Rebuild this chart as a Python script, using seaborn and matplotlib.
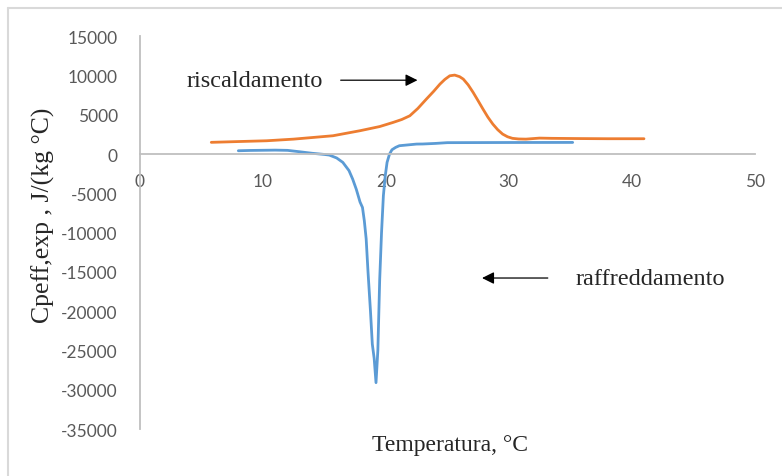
import matplotlib
matplotlib.use('Agg')
import matplotlib.pyplot as plt
import seaborn as sns
import pandas as pd
from matplotlib.lines import Line2D

# riscaldamento (heating) curve
temp_heat = [5.8, 8.0, 10.3, 12.5, 15.7, 17.9, 19.5, 20.6, 21.3, 21.95, 22.6, 23.3,
             23.9, 24.4, 24.8, 25.2, 25.6, 26.0, 26.3, 26.7, 27.1, 27.5, 27.9,
             28.3, 28.7, 29.1, 29.5, 29.9, 30.3, 30.8, 31.4, 32.5, 33.5, 35.8,
             38.0, 41.0]
cp_heat = [1490, 1590, 1690, 1900, 2330, 2970, 3500, 4030, 4400, 4870, 5800, 7000,
           8000, 8900, 9500, 9960, 10050, 9850, 9540, 8800, 7850, 6800, 5730,
           4700, 3820, 3100, 2540, 2200, 2000, 1920, 1900, 2030, 2000, 1970,
           1950, 1950]

# raffreddamento (cooling) curve
temp_cool = [8.0, 9.0, 10.0, 11.0, 12.0, 13.0, 14.0, 15.0, 15.4, 16.0, 16.5, 17.0,
             17.3, 17.6, 17.9, 18.1, 18.25, 18.4, 18.55, 18.75, 18.9, 19.05, 19.2,
             19.35, 19.5, 19.65, 19.8, 19.95, 20.1, 20.3, 20.5, 20.8, 21.1, 22.5,
             23.0, 24.0, 25.0, 30.0, 35.2]
cp_cool = [420, 460, 480, 500, 470, 290, 100, -50, -130, -500, -1060, -2100,
           -3180, -4500, -6100, -6800, -8500, -10800, -15000, -20000, -24200, -26000, -29100,
           -25000, -16000, -10000, -5300, -2800, -1060, 0, 550, 850, 1060, 1270,
           1280, 1350, 1450, 1470, 1480]

heat_df = pd.DataFrame({'T': temp_heat, 'cp': cp_heat})
cool_df = pd.DataFrame({'T': temp_cool, 'cp': cp_cool})

sns.set_style('white')
plt.rcParams['font.family'] = ['Liberation Serif', 'DejaVu Serif']
plt.rcParams['axes.unicode_minus'] = False

fig = plt.figure(figsize=(7.82, 4.77), dpi=100)
ax = fig.add_axes([0.179, 0.0985, 0.786, 0.8235])

sns.lineplot(data=heat_df, x='T', y='cp', color='#ED7D31', linewidth=2.0, sort=False, estimator=None, ax=ax)
sns.lineplot(data=cool_df, x='T', y='cp', color='#5B9BD5', linewidth=2.0, sort=False, estimator=None, ax=ax)

ax.set_xlim(0, 50)
ax.set_ylim(-35000, 15000)
ax.set_xticks(range(0, 51, 10))
ax.set_yticks(range(-35000, 15001, 5000))

# excel style axes: y spine on left, x axis crossing at zero
for s in ['top', 'right']:
    ax.spines[s].set_visible(False)
ax.spines['bottom'].set_position(('data', 0))
ax.spines['left'].set_color('#BFBFBF')
ax.spines['bottom'].set_color('#BFBFBF')
ax.spines['left'].set_linewidth(1.3)
ax.spines['bottom'].set_linewidth(1.3)
ax.tick_params(axis='both', length=0, labelcolor='#595959')
ax.tick_params(axis='x', pad=14)
ax.tick_params(axis='y', pad=16)
for lab in ax.get_xticklabels() + ax.get_yticklabels():
    lab.set_family(['Lato', 'DejaVu Sans'])
    lab.set_fontsize(12.5)

ax.set_xlabel('Temperatura, °C', fontsize=17)
ax.set_ylabel('Cpeff,exp , J/(kg °C)', fontsize=18.5)
ax.xaxis.set_label_coords(0.504, -0.012)
ax.yaxis.set_label_coords(-0.138, 0.547)

# annotations
ax.annotate('', xy=(22.8, 9400), xytext=(16.1, 9400),
            arrowprops=dict(arrowstyle='-|>', color='black', lw=0.9, mutation_scale=18))
ax.text(3.8, 9400, 'riscaldamento', fontsize=17.5, va='center', ha='left')
ax.annotate('', xy=(27.6, -15780), xytext=(33.4, -15780),
            arrowprops=dict(arrowstyle='-|>', color='black', lw=0.9, mutation_scale=18))
ax.text(35.4, -15780, 'raffreddamento', fontsize=17.5, va='center', ha='left')

# chart border (cropped, only top and left visible)
fig.add_artist(Line2D([0.0105, 1.0], [0.982, 0.982], transform=fig.transFigure, color='#D9D9D9', lw=1.5))
fig.add_artist(Line2D([0.0105, 0.0105], [0.0, 0.982], transform=fig.transFigure, color='#D9D9D9', lw=1.5))

fig.savefig('out.png', dpi=100)
